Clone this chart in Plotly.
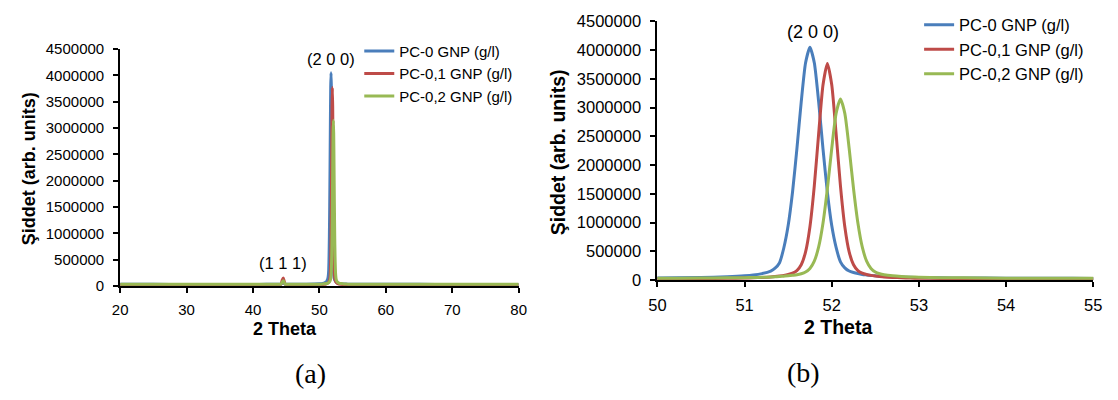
import plotly.graph_objects as go

# 2-theta positions (degrees) shared by all three diffractograms
two_theta = [20, 25, 30, 35, 40, 42, 43.5, 44.2, 44.4, 44.55, 44.7, 44.85, 45.2, 46, 48,
             50, 50.5, 50.8, 51.0, 51.1, 51.2, 51.3,
             51.35, 51.4, 51.45, 51.5, 51.55, 51.6, 51.65, 51.7, 51.75, 51.8, 51.85, 51.9, 51.95,
             52.0, 52.05, 52.1, 52.15, 52.2, 52.25, 52.3, 52.35, 52.4, 52.45, 52.5, 52.55, 52.6,
             52.7, 52.8, 52.9, 53.0, 53.25, 53.5, 54.0, 54.5, 55.0, 57, 60, 65, 70, 75, 80]

# Intensity (arb. units) for each coating
pc0 = [30000, 30000, 29000, 29000, 29000, 30000, 31000, 33000, 50000, 62000, 45000, 33000, 31000, 31000, 32000,
       40000, 47000, 60000, 76000, 90000, 115000, 160000,
       210000, 300000, 560000, 950000, 1530000, 2280000, 3100000, 3780000, 4050000, 3780000, 3100000, 2280000, 1530000,
       950000, 570000, 320000, 215000, 160000, 134000, 115000, 101000, 92000, 84000, 76000, 71000, 67000,
       60000, 55000, 50000, 47000, 42000, 39000, 35000, 33000, 32000, 31000, 30000, 30000, 29000, 29000, 29000]

pc01 = [22000, 22000, 21000, 21000, 22000, 23000, 25000, 32000, 110000, 152000, 90000, 36000, 24000, 22000, 22000,
        24000, 28000, 32000, 38000, 43000, 49000, 57000,
        65000, 74000, 84000, 99000, 122000, 168000, 270000, 493000, 930000, 1640000, 2550000, 3400000, 3770000,
        3400000, 2550000, 1640000, 930000, 493000, 270000, 168000, 122000, 99000, 84000, 74000, 65000, 57000,
        49000, 43000, 38000, 35000, 30000, 28000, 25000, 23000, 22000, 21000, 21000, 20000, 20000, 20000, 20000]

pc02 = [32000, 31000, 31000, 30000, 31000, 31000, 32000, 34000, 75000, 98000, 65000, 35000, 32000, 31000, 31000,
        33000, 37000, 41000, 45000, 47000, 50000, 56000,
        60000, 64000, 70000, 76000, 85000, 95000, 113000, 143000, 205000, 332000, 578000, 994000, 1590000,
        2290000, 2900000, 3150000, 2900000, 2290000, 1590000, 994000, 578000, 332000, 205000, 143000, 113000, 95000,
        76000, 65000, 57000, 52000, 45000, 41000, 36000, 34000, 33000, 32000, 31000, 31000, 30000, 30000, 30000]

series_names = ["PC-0 GNP (g/l)", "PC-0,1 GNP (g/l)", "PC-0,2 GNP (g/l)"]
series_colors = ["#4A7EBB", "#BE4B48", "#98B954"]
series_values = [pc0, pc01, pc02]

# Reflection labels: (text, 2-theta, intensity)
peak_labels_full = [("(2 0 0)", 51.75, 4320000), ("(1 1 1)", 44.55, 435000)]
peak_labels_zoom = [("(2 0 0)", 51.79, 4320000)]

W, H = 1118, 400
SANS = "Liberation Sans, Arial, sans-serif"
SERIF = "Liberation Serif, Times New Roman, serif"

fig = go.Figure()
for name, color, ys in zip(series_names, series_colors, series_values):
    fig.add_trace(go.Scatter(x=two_theta, y=ys, name=name, mode="lines",
                             line=dict(color=color, width=3, shape="spline", smoothing=0.6),
                             xaxis="x", yaxis="y", legend="legend"))
for name, color, ys in zip(series_names, series_colors, series_values):
    fig.add_trace(go.Scatter(x=two_theta, y=ys, name=name, mode="lines",
                             line=dict(color=color, width=3, shape="spline", smoothing=0.6),
                             xaxis="x2", yaxis="y2", legend="legend2"))


def axis_style(size):
    return dict(showline=True, linecolor="black", linewidth=2, showgrid=False, zeroline=False,
                ticks="outside", ticklen=5, tickwidth=2, tickcolor="black",
                tickfont=dict(family=SANS, size=size, color="black"))


fig.update_layout(
    width=W, height=H, paper_bgcolor="white", plot_bgcolor="white",
    margin=dict(l=0, r=0, t=0, b=0), showlegend=True,
    xaxis=dict(domain=[113 / W, 518 / W], range=[20, 80], dtick=10, anchor="y",
               ticklabelstandoff=4, **axis_style(15)),
    yaxis=dict(domain=[(H - 290) / H, (H - 42) / H], range=[0, 4500000], dtick=500000,
               tickformat="d", anchor="x", ticklabelstandoff=6, **axis_style(15)),
    xaxis2=dict(domain=[659 / W, 1102 / W], range=[50, 55], dtick=1, anchor="y2",
                ticklabelstandoff=4, **axis_style(16.5)),
    yaxis2=dict(domain=[(H - 284) / H, (H - 13) / H], range=[0, 4500000], dtick=500000,
                tickformat="d", anchor="x2", ticklabelstandoff=6, **axis_style(16.5)),
    legend=dict(x=356 / W, y=(H - 27) / H, xanchor="left", yanchor="top",
                bgcolor="rgba(0,0,0,0)", font=dict(family=SANS, size=15, color="black"),
                itemwidth=30, tracegroupgap=0),
    legend2=dict(x=925 / W, y=(H + 1.5) / H, xanchor="left", yanchor="top",
                 bgcolor="rgba(0,0,0,0)", font=dict(family=SANS, size=16.5, color="black"),
                 itemwidth=30, tracegroupgap=0),
)

annotations = []
for text, xv, yv in peak_labels_full:
    annotations.append(dict(text=text, x=xv, y=yv, xref="x", yref="y", showarrow=False,
                            xanchor="center", yanchor="middle",
                            font=dict(family=SANS, size=16.5, color="black")))
for text, xv, yv in peak_labels_zoom:
    annotations.append(dict(text=text, x=xv, y=yv, xref="x2", yref="y2", showarrow=False,
                            xanchor="center", yanchor="middle",
                            font=dict(family=SANS, size=18, color="black")))

# Axis titles and panel captions
annotations += [
    dict(text="2 Theta", x=281 / W, y=(H - 335) / H, xref="paper", yref="paper", showarrow=False,
         xanchor="center", yanchor="middle", font=dict(family=SANS, size=18, color="black", weight="bold")),
    dict(text="2 Theta", x=843 / W, y=(H - 333) / H, xref="paper", yref="paper", showarrow=False,
         xanchor="center", yanchor="middle", font=dict(family=SANS, size=19.5, color="black", weight="bold")),
    dict(text="Şiddet (arb. units)", x=21 / W, y=(H - 167) / H, xref="paper", yref="paper",
         showarrow=False, textangle=-90, xanchor="center", yanchor="middle",
         font=dict(family=SANS, size=18, color="black", weight="bold")),
    dict(text="Şiddet (arb. units)", x=558 / W, y=(H - 150) / H, xref="paper", yref="paper",
         showarrow=False, textangle=-90, xanchor="center", yanchor="middle",
         font=dict(family=SANS, size=19.5, color="black", weight="bold")),
    dict(text="(a)", x=306 / W, y=(H - 382) / H, xref="paper", yref="paper", showarrow=False,
         xanchor="center", yanchor="middle", font=dict(family=SERIF, size=28, color="black")),
    dict(text="(b)", x=807 / W, y=(H - 381) / H, xref="paper", yref="paper", showarrow=False,
         xanchor="center", yanchor="middle", font=dict(family=SERIF, size=28, color="black")),
]
fig.update_layout(annotations=annotations)

fig.write_html("out.html")
